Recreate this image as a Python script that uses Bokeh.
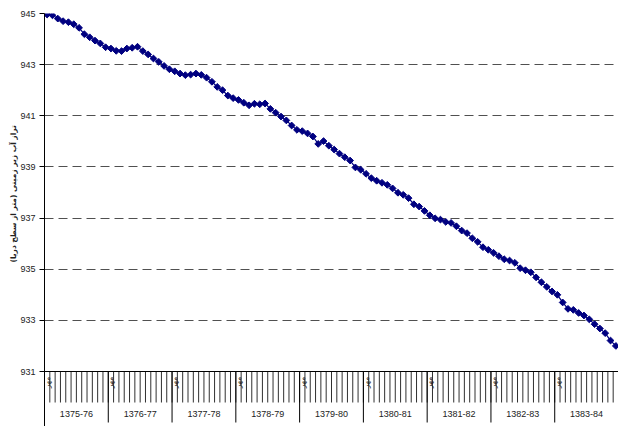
import numpy as np
from bokeh.plotting import figure
from bokeh.models import Range1d, FixedTicker, Span, Title
from bokeh.core.properties import value
from bokeh.embed import file_html
from bokeh.resources import INLINE

# ---------------- data ----------------
water_years = ["1375-76", "1376-77", "1377-78", "1378-79", "1379-80",
               "1380-81", "1381-82", "1382-83", "1383-84"]

wy_1375_76 = [944.96, 944.93, 944.80, 944.70, 944.66, 944.58, 944.44, 944.19, 944.07, 943.94, 943.83, 943.68]
wy_1376_77 = [943.63, 943.54, 943.53, 943.63, 943.66, 943.70, 943.53, 943.40, 943.24, 943.11, 942.95, 942.82]
wy_1377_78 = [942.74, 942.65, 942.59, 942.61, 942.65, 942.60, 942.49, 942.33, 942.13, 942.00, 941.79, 941.69]
wy_1378_79 = [941.62, 941.51, 941.41, 941.47, 941.45, 941.48, 941.27, 941.12, 940.97, 940.82, 940.62, 940.45]
wy_1379_80 = [940.40, 940.31, 940.19, 939.90, 940.01, 939.83, 939.68, 939.52, 939.38, 939.25, 938.98, 938.89]
wy_1380_81 = [938.73, 938.56, 938.46, 938.38, 938.30, 938.16, 937.99, 937.91, 937.78, 937.54, 937.45, 937.28]
wy_1381_82 = [937.11, 936.99, 936.94, 936.85, 936.81, 936.68, 936.51, 936.41, 936.21, 936.07, 935.86, 935.76]
wy_1382_83 = [935.64, 935.51, 935.39, 935.34, 935.25, 935.04, 934.96, 934.88, 934.68, 934.49, 934.31, 934.13]
wy_1383_84 = [934.00, 933.70, 933.45, 933.41, 933.29, 933.19, 933.04, 932.85, 932.68, 932.50, 932.21, 932.00]

first_month_label = "مهر"
y_ticks = [931, 933, 935, 937, 939, 941, 943, 945]
y_title = "تراز آب زیر زمینی (متر از سطح دریا)"

# ---------------- derived ----------------
levels = (wy_1375_76 + wy_1376_77 + wy_1377_78 + wy_1378_79 + wy_1379_80 +
          wy_1380_81 + wy_1381_82 + wy_1382_83 + wy_1383_84)
months_per_year = 12
n = len(levels)
x = np.arange(n) + 0.5
month_edges = np.arange(n + 1)
year_edges = np.arange(0, n + 1, months_per_year)
year_centers = year_edges[:-1] + months_per_year / 2

# ---------------- layout ----------------
W, H = 618, 426
TOP, LEFT = 13, 44
AXIS_Y_PX = 371          # pixel row of the category axis line (from figure top)
y_top, y_axis = max(y_ticks), min(y_ticks)
px_per_unit = (AXIS_Y_PX - TOP) / (y_top - y_axis)
y_bottom = y_axis - (H - AXIS_Y_PX) / px_per_unit

def down(px):
    return y_axis - px / px_per_unit

p = figure(width=W, height=H, output_backend="svg", toolbar_location=None,
           x_range=Range1d(0, n), y_range=Range1d(y_bottom, y_top),
           x_axis_location=None,
           min_border_left=LEFT, min_border_right=0, min_border_top=TOP, min_border_bottom=0)
p.outline_line_color = None
p.background_fill_color = "white"
for g in p.xgrid:
    g.visible = False

yax = p.yaxis[0]
yax.ticker = FixedTicker(ticks=y_ticks, minor_ticks=[])
yax.major_tick_out = 5
yax.major_tick_in = 0
yax.axis_line_color = "black"
yax.major_tick_line_color = "black"
yax.major_label_text_font = "Liberation Sans"
yax.major_label_text_font_size = "9px"
yax.major_label_text_color = "#222222"
yax.major_label_standoff = 4

p.ygrid.ticker = FixedTicker(ticks=y_ticks, minor_ticks=[])
p.ygrid.grid_line_color = "#505050"
p.ygrid.grid_line_dash = "9 5"
p.ygrid.grid_line_width = 1

# y title (left side, placed beside the value area)
p.add_layout(Title(text=y_title, align="left", offset=H - AXIS_Y_PX + 109, standoff=0,
                   text_font="DejaVu Sans", text_font_style="bold",
                   text_font_size="7.5px", text_color="#222222"), "left")

# category axis line
p.add_layout(Span(location=y_axis, dimension="width", line_color="black", line_width=1))

# month ticks and year separators
p.segment(x0=month_edges, y0=y_axis, x1=month_edges, y1=down(31),
          line_color="#303030", line_width=1)
p.segment(x0=year_edges, y0=y_axis, x1=year_edges, y1=down(51),
          line_color="black", line_width=1)

# year labels
p.text(x=year_centers, y=down(42), text=water_years,
       text_align="center", text_baseline="middle",
       text_font=value("Liberation Sans"), text_font_size="9px", text_color="#222222")

# first month labels
p.text(x=year_edges[:-1] + 0.5, y=down(11), text=[first_month_label] * len(water_years),
       angle=np.pi / 2, text_align="center", text_baseline="middle",
       text_font=value("DejaVu Sans"), text_font_size="7.5px", text_color="#222222")

# data
p.line(x, levels, line_color="#000080", line_width=1.2)
p.scatter(x, levels, marker="square", angle=np.pi / 4, size=4.8,
          fill_color="#000080", line_color="#000080")

open("out.html", "w").write(file_html(p, INLINE))
